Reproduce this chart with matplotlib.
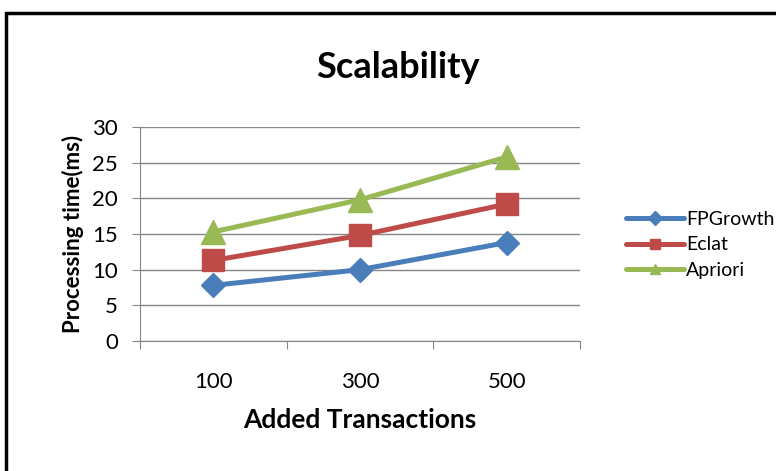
import matplotlib.pyplot as plt
from matplotlib.patches import Rectangle
from matplotlib.lines import Line2D

plt.rcParams["font.family"] = ["Lato", "DejaVu Sans"]

# Processing time (ms) by number of added transactions
transactions = ["100", "300", "500"]
fpgrowth = [7.8, 10.0, 13.8]
eclat = [11.3, 14.8, 19.2]
apriori = [15.3, 19.8, 25.8]

series = [
    ("FPGrowth", fpgrowth, "#4A7EBB", "D", 12),
    ("Eclat", eclat, "#BE4B48", "s", 16),
    ("Apriori", apriori, "#98B954", "^", 17),
]

fig = plt.figure(figsize=(7.76, 4.71), dpi=100)
ax = fig.add_axes([140 / 776, 1 - 341 / 471, 440 / 776, 214 / 471])

x = range(len(transactions))
handles = []
for name, vals, color, marker, ms in series:
    ax.plot(x, vals, color=color, lw=3.6, marker=marker, markersize=ms,
            solid_capstyle="round", zorder=3)
    handles.append(Line2D([], [], color=color, lw=3.6, marker=marker,
                          markersize=7, solid_capstyle="round", label=name))

ax.set_ylim(0, 30)
ax.set_yticks(range(0, 31, 5))
ax.set_xlim(-0.5, len(transactions) - 0.5)
ax.set_xticks([i - 0.5 for i in range(len(transactions) + 1)])
ax.set_xticklabels([])
ax.set_xticks(list(x), minor=True)
ax.set_xticklabels(transactions, minor=True)

ax.grid(axis="y", color="#868686", lw=1)
ax.set_axisbelow(True)
for side in ["top", "right"]:
    ax.spines[side].set_visible(False)
for side in ["left", "bottom"]:
    ax.spines[side].set_color("#868686")
ax.tick_params(axis="both", which="major", color="#868686", length=6,
               labelsize=16)
ax.tick_params(axis="y", pad=10)
ax.tick_params(axis="x", which="minor", length=0, pad=22, labelsize=16)

ax.set_xlabel("Added Transactions", fontsize=19, fontweight="bold", labelpad=12)
ax.set_ylabel("Processing time(ms)", fontsize=16, fontweight="bold", labelpad=6)
fig.text(398 / 776, 1 - 67 / 471, "Scalability", fontsize=26,
         fontweight="bold", ha="center", va="center")

fig.legend(handles=handles, loc="center left",
           bbox_to_anchor=(616 / 776, 1 - 245 / 471), frameon=False,
           fontsize=14, handlelength=3.0, handletextpad=0.1, labelspacing=0.45,
           borderpad=0)

# outer chart frame
fig.patches.append(Rectangle((6 / 776, -0.1), 1.2, 1 - 13 / 471 + 0.1,
                             transform=fig.transFigure, fill=False,
                             edgecolor="black", lw=2.5))

fig.savefig("out.png", dpi=100)
